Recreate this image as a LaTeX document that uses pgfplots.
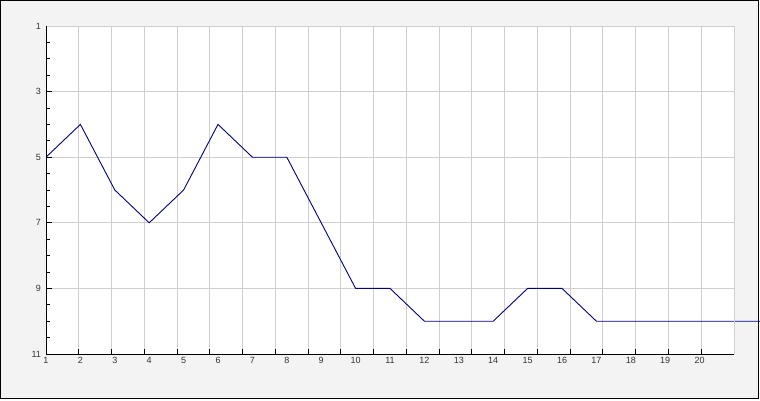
\documentclass[border=0pt]{standalone}
\usepackage{pgfplots}
\pgfplotsset{compat=1.18}
\usepackage{fontspec}
\setmainfont{Liberation Sans}
\definecolor{bgc}{HTML}{F3F3F3}
\definecolor{gridc}{HTML}{CFCFCF}
\definecolor{linec}{HTML}{000080}
\definecolor{labc}{HTML}{333333}
\begin{document}
\begin{tikzpicture}[x=1pt,y=1pt]
\path[use as bounding box] (0,0) rectangle (760,400);
\draw[fill=bgc, draw=black, line width=1pt] (0.5,2) rectangle (758.5,399.5);
\begin{axis}[
  at={(46pt,46pt)}, anchor=south west,
  scale only axis, width=688pt, height=328pt,
  xmin=1, xmax=21, ymin=1, ymax=11,
  y dir=reverse,
  clip=false,
  axis line style={draw=none},
  axis background/.style={fill=white},
  tick align=inside,
  xtick pos=left, ytick pos=left,
  major tick length=5.5pt, minor tick length=3.5pt,
  tick style={black, line width=1pt},
  xtick={1,1.952381,2.904762,3.857143,4.809524,5.761905,6.714286,7.666667,8.619048,9.571429,10.523810,11.476190,12.428571,13.380952,14.333333,15.285714,16.238095,17.190476,18.142857,19.095238,20.047619,21},
  xticklabels={},
  extra x ticks={1,2,3,4,5,6,7,8,9,10,11,12,13,14,15,16,17,18,19,20},
  extra x tick labels={1,2,3,4,5,6,7,8,9,10,11,12,13,14,15,16,17,18,19,20},
  extra x tick style={grid=none, major tick length=0pt},
  ytick={1,3,5,7,9,11},
  minor y tick num=3,
  xmajorgrids, ymajorgrids,
  grid style={gridc, line width=1pt},
  /pgf/number format/assume math mode=true,
  ticklabel style={font=\fontsize{9}{10}\selectfont, text=labc},
  yticklabel style={xshift=-1.5pt},
]
\addplot[linec, line width=0.9pt] coordinates {
  (1,5) (2,4) (3,6) (4,7) (5,6) (6,4) (7,5) (8,5) (9,7) (10,9)
  (11,9) (12,10) (13,10) (14,10) (15,9) (16,9) (17,10) (18,10)
  (19,10) (20,10) (21,10) (21.75,10)
};
\draw[gridc, line width=1pt] (axis cs:1,1) -- (axis cs:21,1) -- (axis cs:21,11);
\draw[black, line width=1pt] (axis cs:1,1) -- (axis cs:1,11) -- (axis cs:21,11);
\end{axis}
\end{tikzpicture}
\end{document}
